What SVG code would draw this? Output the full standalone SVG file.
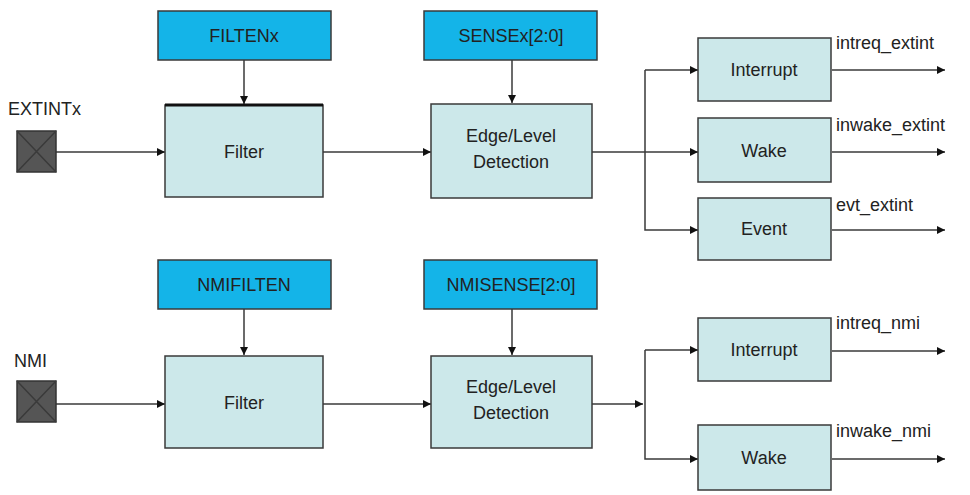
<svg xmlns="http://www.w3.org/2000/svg" width="970" height="495" viewBox="0 0 970 495">
<defs>
<style>
.reg{fill:#14b4e8;stroke:#3a3a3a;stroke-width:1.5}
.blk{fill:#cce8ea;stroke:#3a3a3a;stroke-width:1.5}
.pin{fill:#555;stroke:#333;stroke-width:1.5}
.t{font-family:"Liberation Sans",Arial,sans-serif;font-size:18px;fill:#222;text-anchor:middle}
.l{font-family:"Liberation Sans",Arial,sans-serif;font-size:18px;fill:#222}
.c{fill:none;stroke:#3a3a3a;stroke-width:1.5;marker-end:url(#a)}
.n{fill:none;stroke:#3a3a3a;stroke-width:1.5}
</style>
<marker id="a" viewBox="0 0 10 10" refX="10" refY="5" markerWidth="8" markerHeight="8" markerUnits="userSpaceOnUse" orient="auto"><path d="M0,0L10,5L0,10z" fill="#111"/></marker>
</defs>
<rect width="970" height="495" fill="#fff"/>
<g id="connectors">
<path class="c" d="M56,152H165"/>
<path class="c" d="M244,60V104"/>
<path class="c" d="M323,152H431"/>
<path class="c" d="M512,60V103"/>
<path class="n" d="M592,152H645"/>
<path class="c" d="M645,70V230H698"/>
<path class="c" d="M645,70H698"/>
<path class="c" d="M645,152H698"/>
<path class="c" d="M832,70H945"/>
<path class="c" d="M832,152H945"/>
<path class="c" d="M832,230H945"/>
<path class="c" d="M56,404H165"/>
<path class="c" d="M244,309V355"/>
<path class="c" d="M323,404H431"/>
<path class="c" d="M512,309V355"/>
<path class="c" d="M592,404H643"/>
<path class="c" d="M645,350H698"/>
<path class="c" d="M645,350V459H698"/>
<path class="c" d="M832,351H945"/>
<path class="c" d="M832,459H945"/>
</g>
<g id="extintx"><text class="l" x="8" y="115">EXTINTx</text><rect class="pin" x="17" y="131" width="39" height="41"/><path class="n" d="M17,131L56,172M56,131L17,172"/></g>
<g id="filtenx"><rect class="reg" x="158" y="11" width="173" height="49"/><text class="t" x="244" y="42">FILTENx</text></g>
<g id="filter1"><rect class="blk" x="165" y="105" width="158" height="92"/><path d="M165,105H323" stroke="#111" stroke-width="3"/><text class="t" x="244" y="158">Filter</text></g>
<g id="sensex"><rect class="reg" x="424" y="11" width="173" height="49"/><text class="t" x="511" y="42">SENSEx[2:0]</text></g>
<g id="edge1"><rect class="blk" x="431" y="104" width="161" height="94"/><text class="t" x="511" y="142">Edge/Level</text><text class="t" x="511" y="168">Detection</text></g>
<g id="int1"><rect class="blk" x="698" y="38" width="133" height="63"/><text class="t" x="764" y="76">Interrupt</text></g>
<g id="wake1"><rect class="blk" x="698" y="118" width="133" height="64"/><text class="t" x="764" y="157">Wake</text></g>
<g id="evt1"><rect class="blk" x="698" y="198" width="133" height="62"/><text class="t" x="764" y="235">Event</text></g>
<text class="l" x="836" y="49">intreq_extint</text>
<text class="l" x="836" y="131">inwake_extint</text>
<text class="l" x="836" y="211">evt_extint</text>
<g id="nmi"><text class="l" x="14" y="367">NMI</text><rect class="pin" x="17" y="381" width="39" height="41"/><path class="n" d="M17,381L56,422M56,381L17,422"/></g>
<g id="nmifilten"><rect class="reg" x="158" y="260" width="173" height="49"/><text class="t" x="244" y="291">NMIFILTEN</text></g>
<g id="filter2"><rect class="blk" x="165" y="356" width="158" height="92"/><text class="t" x="244" y="409">Filter</text></g>
<g id="nmisense"><rect class="reg" x="424" y="260" width="173" height="49"/><text class="t" x="511" y="291">NMISENSE[2:0]</text></g>
<g id="edge2"><rect class="blk" x="431" y="356" width="161" height="92"/><text class="t" x="511" y="393">Edge/Level</text><text class="t" x="511" y="419">Detection</text></g>
<g id="int2"><rect class="blk" x="698" y="318" width="133" height="63"/><text class="t" x="764" y="356">Interrupt</text></g>
<g id="wake2"><rect class="blk" x="698" y="425" width="133" height="65"/><text class="t" x="764" y="464">Wake</text></g>
<text class="l" x="836" y="329">intreq_nmi</text>
<text class="l" x="836" y="437">inwake_nmi</text>
</svg>
